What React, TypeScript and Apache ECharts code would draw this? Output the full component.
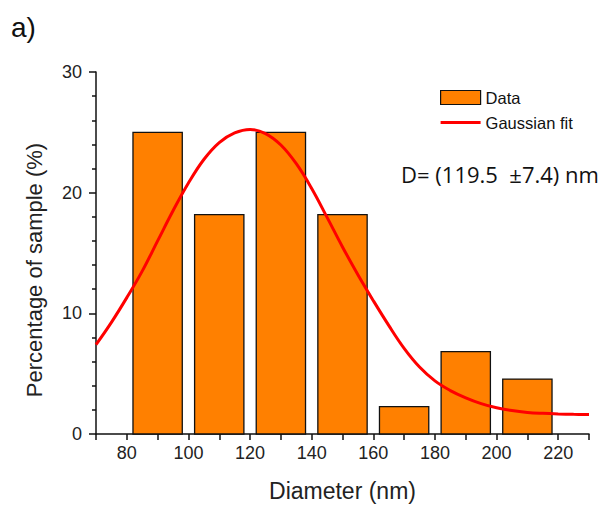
import React, { useEffect, useRef } from "react";
import * as echarts from "echarts";

const binCenters = [90, 110, 130, 150, 170, 190, 210];
const binPercent = [25.0, 18.18, 25.0, 18.18, 2.27, 6.82, 4.55];
const binHalfWidth = 8;

const fitX = [70, 75, 80, 85, 90, 95, 100, 105, 110, 115, 120, 125, 130, 135, 140, 145, 150, 155, 160, 165, 170, 175, 180, 185, 190, 195, 200, 205, 210, 215, 220, 225, 230];
const fitY = [7.4, 9.25, 11.3, 13.5, 16.0, 18.5, 20.8, 22.75, 24.15, 24.95, 25.24, 24.9, 23.95, 22.4, 20.35, 17.95, 15.5, 13.2, 11.05, 9.0, 7.1, 5.55, 4.4, 3.6, 3.0, 2.52, 2.17, 1.94, 1.79, 1.71, 1.66, 1.63, 1.61];

const xTicks = [80, 100, 120, 140, 160, 180, 200, 220];
const yTicks = [0, 10, 20, 30];

const FONT = "'Liberation Sans', Arial, sans-serif";

export default function App() {
  const ref = useRef<HTMLDivElement>(null);
  useEffect(() => {
    if (!ref.current) return;
    const chart = echarts.init(ref.current, undefined, { renderer: "svg" });
    const barData = binCenters.map((c, i) => [c, binPercent[i]]);
    const lineData = fitX.map((x, i) => [x, fitY[i]]);
    chart.setOption({
      animation: false,
      backgroundColor: "#ffffff",
      grid: { left: 96, top: 72, width: 493, height: 365, containLabel: false },
      legend: {
        orient: "vertical",
        left: 435,
        top: 84,
        itemWidth: 40,
        itemHeight: 14,
        itemGap: 8,
        symbolKeepAspect: true,
        textStyle: { fontFamily: FONT, fontSize: 16.5, color: "#111" },
        data: [
          { name: "Data", icon: "rect", itemStyle: { color: "#FF8000", borderColor: "#111", borderWidth: 1.2 } },
          {
            name: "Gaussian fit",
            icon: "path://M0,0 L40,0 L40,3 L0,3 Z",
            itemStyle: { color: "#FF0000", borderWidth: 0 },
          },
        ],
      },
      xAxis: {
        type: "value",
        min: 70,
        max: 230,
        interval: 10,
        splitLine: { show: false },
        axisLine: { show: true, onZero: false, lineStyle: { color: "#111", width: 1.5 } },
        axisTick: { show: true, length: 6, inside: false, lineStyle: { color: "#111", width: 1.5 } },
        minorTick: { show: false },
        axisLabel: {
          margin: 10,
          fontFamily: FONT,
          fontSize: 18,
          color: "#222",
          formatter: (v: number) => (xTicks.includes(v) ? String(v) : ""),
        },
        name: "Diameter (nm)",
        nameLocation: "middle",
        nameGap: 45,
        nameTextStyle: { fontFamily: FONT, fontSize: 23, color: "#222" },
      },
      yAxis: {
        type: "value",
        min: 0,
        max: 30,
        interval: 10,
        splitLine: { show: false },
        axisLine: { show: true, onZero: false, lineStyle: { color: "#111", width: 1.5 } },
        axisTick: { show: true, length: 7, lineStyle: { color: "#111", width: 1.5 } },
        minorTick: { show: true, splitNumber: 5, length: 4, lineStyle: { color: "#111", width: 1.5 } },
        axisLabel: {
          margin: 14,
          fontFamily: FONT,
          fontSize: 18,
          color: "#222",
          formatter: (v: number) => (yTicks.includes(v) ? String(v) : ""),
        },
      },
      graphic: [
        {
          type: "text",
          left: 11,
          top: 13,
          style: { text: "a)", fontFamily: FONT, fontSize: 28, fill: "#111" },
        },
        {
          type: "text",
          x: 34,
          y: 270,
          rotation: Math.PI / 2,
          style: {
            text: "Percentage of sample (%)",
            fontFamily: FONT,
            fontSize: 22,
            fill: "#222",
            align: "center",
            verticalAlign: "middle",
          },
        },
        {
          type: "text",
          x: 500,
          y: 174,
          style: {
            text: "D= (119.5  \u00b17.4) nm",
            fontFamily: "'Open Sans', 'Noto Sans', sans-serif",
            fontSize: 22,
            fill: "#111",
            align: "center",
            verticalAlign: "middle",
          },
        },
      ],
      series: [
        {
          name: "Data",
          type: "custom",
          data: barData,
          encode: { x: 0, y: 1 },
          renderItem: (params: any, api: any) => {
            const c = api.value(0);
            const v = api.value(1);
            const p0 = api.coord([c - binHalfWidth, v]);
            const p1 = api.coord([c + binHalfWidth, 0]);
            return {
              type: "rect",
              shape: { x: p0[0], y: p0[1], width: p1[0] - p0[0], height: p1[1] - p0[1] },
              style: { fill: "#FF8000", stroke: "#111", lineWidth: 1.3 },
            };
          },
          itemStyle: { color: "#FF8000", borderColor: "#111", borderWidth: 1 },
          z: 2,
        },
        {
          name: "Gaussian fit",
          type: "line",
          data: lineData,
          smooth: 0.4,
          showSymbol: false,
          symbol: "none",
          lineStyle: { color: "#FF0000", width: 3 },
          itemStyle: { color: "#FF0000" },
          z: 3,
        },
      ],
    });
    return () => chart.dispose();
  }, []);
  return <div ref={ref} style={{ width: 613, height: 507, position: "absolute", left: 0, top: 0 }} />;
}
